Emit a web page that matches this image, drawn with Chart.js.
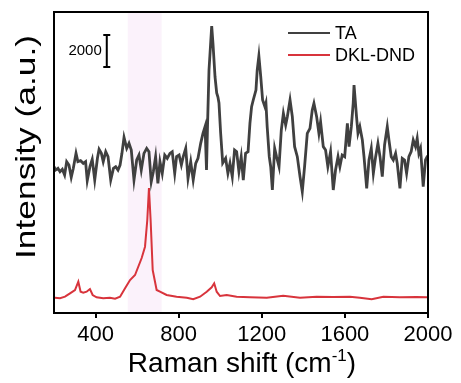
<!DOCTYPE html>
<html>
<head>
<meta charset="utf-8">
<script src="https://cdn.jsdelivr.net/npm/chart.js@4.4.1/dist/chart.umd.min.js"></script>
<style>
  html, body { margin: 0; padding: 0; background: #fff; }
</style>
</head>
<body>
<canvas id="raman" width="461" height="383"></canvas>
<script>
// Raman shift (cm-1) and intensity (a.u., offset)
const taShift = [
  200, 208, 219, 229, 240, 251, 261, 272, 283, 293,
  306, 315, 328, 341, 352, 360, 373, 384, 396, 409,
  417, 428, 437, 449, 460, 473, 486, 497, 508, 518,
  527, 537, 550, 561, 572, 585, 598, 609, 620, 633,
  646, 657, 668, 678, 689, 700, 710, 721, 733, 745,
  758, 769, 781, 790, 802, 813, 822, 834, 845, 858,
  870, 882, 893, 906, 917, 927, 934, 939, 946, 959,
  965, 975, 983, 989, 994, 1002, 1012, 1026, 1037, 1047,
  1058, 1069, 1079, 1090, 1101, 1111, 1122, 1134, 1143, 1151,
  1159, 1172, 1178, 1186, 1195, 1204, 1215, 1220, 1226, 1236,
  1243, 1251, 1262, 1271, 1283, 1294, 1304, 1315, 1323, 1336,
  1347, 1358, 1371, 1384, 1395, 1406, 1419, 1432, 1443, 1451,
  1464, 1475, 1483, 1496, 1507, 1518, 1531, 1544, 1555, 1567,
  1576, 1587, 1599, 1612, 1620, 1631, 1640, 1644, 1656, 1663,
  1672, 1684, 1692, 1705, 1716, 1727, 1737, 1748, 1759, 1769,
  1780, 1791, 1804, 1812, 1823, 1833, 1844, 1852, 1865, 1876,
  1887, 1897, 1908, 1919, 1929, 1940, 1948, 1956, 1964, 1977,
  1988, 1996, 2000
];
const taIntensity = [
  9146, 8937, 9042, 8833, 8979, 8625, 9458, 9250, 8479, 9042,
  9979, 9458, 9521, 9354, 9458, 8271, 9146, 9604, 8312, 9667,
  10229, 9979, 9458, 10083, 9771, 8312, 9042, 9146, 8937, 9250,
  9979, 10979, 10292, 10604, 10187, 8312, 9562, 9875, 8937, 9979,
  10292, 10083, 8208, 8833, 9771, 8104, 9458, 8729, 9875, 9667,
  9979, 10083, 8729, 9771, 9875, 9250, 9771, 10292, 8417, 9458,
  8312, 9354, 9667, 10604, 11229, 11646, 8937, 11750, 15187, 17937,
  16875, 14750, 13750, 13500, 13125, 11250, 9375, 9667, 8729, 9354,
  8521, 10187, 10083, 8833, 9771, 8312, 9979, 10083, 11854, 12894,
  13312, 13937, 15187, 16062, 14769, 13312, 12894, 13125, 11644, 9769,
  9144, 7687, 10292, 9771, 9146, 11437, 12479, 11750, 12271, 13312,
  12271, 10396, 9771, 8521, 7583, 9146, 11229, 11542, 12687, 13104,
  12271, 11229, 11958, 10396, 10187, 9146, 10083, 7687, 8937, 9771,
  9146, 9875, 9771, 11854, 10396, 11646, 13104, 14250, 12271, 11229,
  11646, 10812, 9771, 7792, 9562, 10292, 8729, 9771, 10604, 9771,
  8521, 10500, 11646, 10812, 9771, 9562, 9979, 9354, 7792, 9667,
  9562, 8729, 9771, 10083, 10812, 10396, 10917, 9979, 10292, 7896,
  9562, 9771, 9771
];
const dndShift = [
  200, 205, 229, 253, 277, 301, 317, 328, 341, 357,
  373, 386, 405, 437, 469, 494, 518, 542, 566, 590,
  622, 638, 649, 657, 665, 675, 694, 710, 742, 790,
  839, 870, 903, 935, 959, 971, 983, 999, 1031, 1079,
  1143, 1224, 1303, 1384, 1464, 1544, 1624, 1672, 1729, 1785,
  1865, 1945, 1993, 2000
];
const dndIntensity = [
  960, 956, 919, 1019, 1231, 1437, 1956, 1331, 1269, 1331,
  1500, 1125, 981, 919, 956, 894, 1019, 1544, 2062, 2375,
  3437, 4144, 5812, 7812, 5812, 2687, 1437, 1331, 1125, 1019,
  956, 856, 1019, 1331, 1606, 1856, 1331, 1062, 1125, 1019,
  981, 956, 1081, 956, 1019, 1000, 1019, 956, 856, 1019,
  981, 1000, 981, 981
];
const seriesNames = ["TA", "DKL-DND"];
const xTicks = [400, 800, 1200, 1600, 2000];
const bandRange = [555, 718];
const scaleBarAt = 454, scaleBarTop = 17375, scaleBarSize = 2000;

const FONT = '"Liberation Sans", Arial, Helvetica, sans-serif';
const toPoints = (xs, ys) => xs.map((v, i) => ({ x: v, y: ys[i] }));

const decor = {
  id: "decor",
  beforeDatasetsDraw(chart) {
    const { ctx, chartArea: a, scales: { x } } = chart;
    const x0 = x.getPixelForValue(bandRange[0]);
    const x1 = x.getPixelForValue(bandRange[1]);
    ctx.save();
    ctx.fillStyle = "#fbf2fb";
    ctx.fillRect(x0, a.top, x1 - x0, a.bottom - a.top);
    ctx.restore();
  },
  afterDraw(chart) {
    const { ctx, chartArea: a, scales: { x, y } } = chart;
    ctx.save();
    // box around plot
    ctx.strokeStyle = "#000";
    ctx.lineWidth = 2;
    ctx.strokeRect(a.left, a.top, a.right - a.left, a.bottom - a.top);

    // scale bar
    const bx = x.getPixelForValue(scaleBarAt);
    const b0 = y.getPixelForValue(scaleBarTop);
    const b1 = y.getPixelForValue(scaleBarTop - scaleBarSize);
    ctx.beginPath();
    ctx.moveTo(bx, b0); ctx.lineTo(bx, b1);
    ctx.moveTo(bx - 3.5, b0); ctx.lineTo(bx + 3.5, b0);
    ctx.moveTo(bx - 3.5, b1); ctx.lineTo(bx + 3.5, b1);
    ctx.stroke();
    ctx.fillStyle = "#000";
    ctx.font = "15px " + FONT;
    ctx.textAlign = "right";
    ctx.textBaseline = "middle";
    ctx.fillText(String(scaleBarSize), bx - 5, (b0 + b1) / 2);

    // legend
    ctx.font = "18px " + FONT;
    ctx.textAlign = "left";
    chart.data.datasets.forEach((ds, i) => {
      const ly = 33 + i * 22;
      ctx.strokeStyle = ds.borderColor;
      ctx.lineWidth = 2;
      ctx.beginPath();
      ctx.moveTo(288, ly); ctx.lineTo(330, ly);
      ctx.stroke();
      ctx.fillStyle = "#000";
      ctx.fillText(ds.label, 335, ly + 1);
    });

    // y title
    ctx.save();
    ctx.font = "28px " + FONT;
    ctx.translate(27, 147);
    ctx.rotate(-Math.PI / 2);
    const yt = "Intensity (a.u.)";
    const w = ctx.measureText(yt).width;
    ctx.scale(224 / w, 1);
    ctx.textAlign = "center";
    ctx.textBaseline = "middle";
    ctx.fillText(yt, 0, 0);
    ctx.restore();

    // x title with superscript
    const big = "28px " + FONT, small = "17px " + FONT;
    const p1 = "Raman shift (cm", sup = "-1", p2 = ")";
    ctx.font = big;
    const w1 = ctx.measureText(p1).width, w3 = ctx.measureText(p2).width;
    ctx.font = small;
    const w2 = ctx.measureText(sup).width;
    let tx = 242 - (w1 + w2 + w3) / 2;
    const base = 372;
    ctx.textAlign = "left";
    ctx.textBaseline = "alphabetic";
    ctx.font = big; ctx.fillText(p1, tx, base); tx += w1;
    ctx.font = small; ctx.fillText(sup, tx, base - 11); tx += w2;
    ctx.font = big; ctx.fillText(p2, tx, base);
    ctx.restore();
  }
};

new Chart(document.getElementById("raman"), {
  type: "scatter",
  data: {
    datasets: [
      {
        label: seriesNames[0],
        data: toPoints(taShift, taIntensity),
        showLine: true,
        borderColor: "#404040",
        borderWidth: 2.8,
        pointRadius: 0,
        tension: 0
      },
      {
        label: seriesNames[1],
        data: toPoints(dndShift, dndIntensity),
        showLine: true,
        borderColor: "#d8343c",
        borderWidth: 2,
        pointRadius: 0,
        tension: 0
      }
    ]
  },
  options: {
    responsive: false,
    animation: false,
    layout: { padding: { top: 12, right: 33, left: 0, bottom: 0 } },
    plugins: { legend: { display: false }, tooltip: { enabled: false } },
    scales: {
      x: {
        type: "linear",
        min: 200,
        max: 2000,
        afterBuildTicks: (s) => { s.ticks = xTicks.map((v) => ({ value: v })); },
        afterFit: (s) => { s.height = 70; },
        ticks: {
          color: "#000",
          font: { family: FONT, size: 22 },
          padding: 4,
          maxRotation: 0,
          callback: (v) => String(v)
        },
        grid: { drawOnChartArea: false, tickLength: 5, color: "#000", lineWidth: 2 },
        border: { color: "#000", width: 2 }
      },
      y: {
        min: 0,
        max: 18812.5,
        ticks: { display: false },
        grid: { display: false },
        border: { color: "#000", width: 2 },
        afterFit: (s) => { s.width = 54; }
      }
    }
  },
  plugins: [decor]
});
</script>
</body>
</html>
